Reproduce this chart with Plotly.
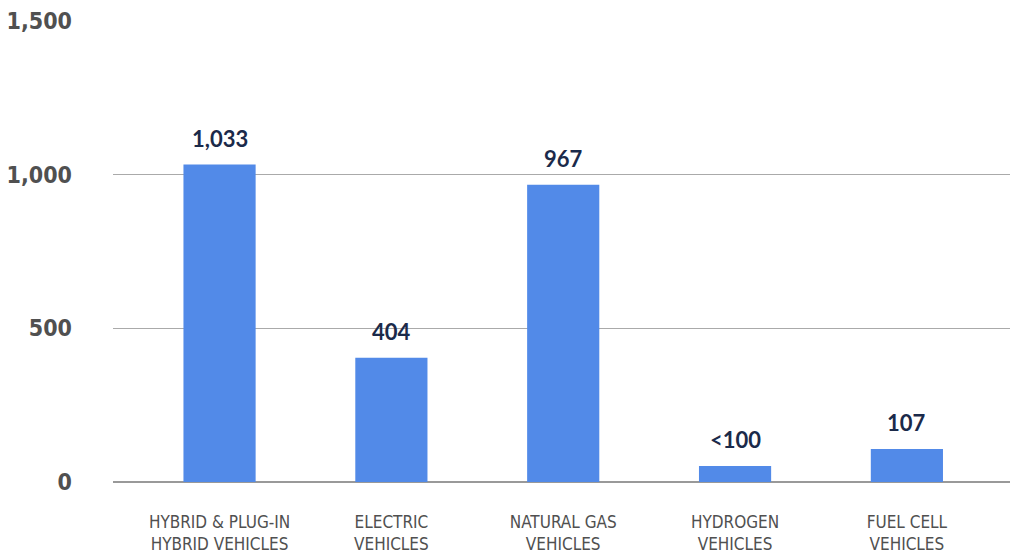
import plotly.graph_objects as go

categories = ["HYBRID & PLUG-IN<br>HYBRID VEHICLES", "ELECTRIC<br>VEHICLES", "NATURAL GAS<br>VEHICLES",
              "HYDROGEN<br>VEHICLES", "FUEL CELL<br>VEHICLES"]
values = [1033, 404, 967, 52, 107]
value_labels = ["1,033", "404", "967", "<100", "107"]
y_ticks = [0, 500, 1000, 1500]
y_tick_labels = ["0", "500", "1,000", "1,500"]

cond_font = "DejaVu Sans Condensed, Lato, sans-serif"

fig = go.Figure()
fig.add_trace(go.Bar(
    x=list(range(len(categories))), y=values,
    marker=dict(color="#528AE8", line=dict(width=0)),
    width=0.42, hoverinfo="skip",
))

for i, (v, lab) in enumerate(zip(values, value_labels)):
    fig.add_annotation(x=i, y=v, text="<b>" + lab + "</b>", showarrow=False,
                       yanchor="bottom", yshift=11,
                       font=dict(family="Lato, Open Sans, sans-serif", size=22, color="#1B2A4A"))

fig.update_layout(
    width=1010, height=556,
    margin=dict(l=113, r=0, t=21, b=74),
    paper_bgcolor="white", plot_bgcolor="white",
    showlegend=False,
    xaxis=dict(
        range=[-0.62, 4.6],
        tickmode="array", tickvals=list(range(len(categories))), ticktext=categories,
        showgrid=False, zeroline=False, showline=False, ticks="",
        ticklabelstandoff=28,
        tickfont=dict(family=cond_font, size=17, color="#505050"),
    ),
    yaxis=dict(
        range=[0, 1500],
        tickmode="array", tickvals=y_ticks, ticktext=y_tick_labels,
        showgrid=True, gridcolor="#AAAAAA", gridwidth=1,
        zeroline=True, zerolinecolor="#999999", zerolinewidth=1.5,
        showline=False, ticks="",
        ticklabelstandoff=40,
        tickfont=dict(family=cond_font, size=23, color="#505050", weight="bold"),
    ),
)

fig.write_html("out.html")
